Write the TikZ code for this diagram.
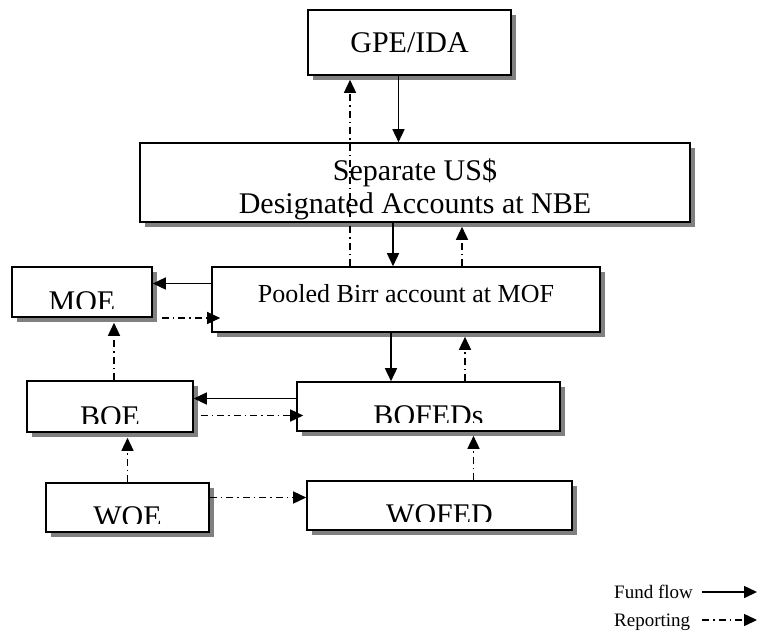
\documentclass[tikz,border=0pt]{standalone}
\usepackage{fontspec}
\setmainfont{Liberation Serif}
\usetikzlibrary{arrows.meta,shadows}
\begin{document}
\begin{tikzpicture}[x=1pt,y=-1pt,
  box/.style={draw, line width=1.6pt, fill=white, inner sep=0pt,
    general shadow={fill=black!50, shadow xshift=5pt, shadow yshift=-5pt}},
  bigtxt/.style={font=\fontsize{30}{33}\selectfont},
  cuttext/.style={path picture={
      \clip ([yshift=9pt]path picture bounding box.south west) rectangle (path picture bounding box.north east);
      \node[anchor=base, inner sep=0pt, font=\fontsize{30}{33}\selectfont] at ([yshift=6pt]path picture bounding box.south) {#1};}},
  fund/.style={line width=1.5pt, -{Triangle[length=13pt,width=12pt]}},
  rep/.style={line width=1.5pt, dash pattern=on 7pt off 4pt on 1.5pt off 4pt, -{Triangle[length=13pt,width=12pt]}}
]
\useasboundingbox (0,0) rectangle (759,633);

% boxes
\node[box, minimum width=203pt, minimum height=65pt] (GPE) at (409.5,42.5) {};
\node[anchor=base, bigtxt, inner sep=0pt] (GPEt) at (409.5,52) {GPE/IDA};
\node[box, minimum width=550pt, minimum height=79pt] (Sep) at (415,182.5) {};
\node[box, minimum width=388pt, minimum height=65pt] (Pool) at (406,299.5) {};
\node[anchor=base, inner sep=0pt, font=\fontsize{26}{30}\selectfont] (Poolt) at (406,302) {Pooled Birr account at MOF};
\node[box, minimum width=140pt, minimum height=50pt, cuttext=MOE] (MOE) at (82,292) {};
\node[box, minimum width=166pt, minimum height=51pt, cuttext=BOE] (BOE) at (110,406.5) {};
\node[box, minimum width=263pt, minimum height=49pt, cuttext=BOFEDs] (BOFED) at (428.5,406.5) {};
\node[box, minimum width=163pt, minimum height=49pt, cuttext=WOE] (WOE) at (127.5,507.5) {};
\node[box, minimum width=265pt, minimum height=49pt, cuttext=WOFED] (WOFED) at (439.5,505.5) {};

% arrows
\draw[fund] ([xshift=-11pt]GPE.south) -- ([xshift=-11pt]GPE.south |- Sep.north);
\draw[rep] ([xshift=-56pt]Pool.north) -- ([xshift=-56pt,yshift=-4pt]Pool.north |- GPE.south);
\node[anchor=base, bigtxt, inner sep=0pt] (Sept1) at (415,180) {Separate US\$};
\node[anchor=base, bigtxt, inner sep=0pt] (Sept2) at (415,213) {Designated Accounts at NBE};
\draw[fund] ([xshift=-13pt]Pool.north |- Sep.south) -- ([xshift=-13pt]Pool.north);
\draw[rep] ([xshift=56pt]Pool.north) -- ([xshift=56pt,yshift=-4pt]Pool.north |- Sep.south);
\draw[fund] ([yshift=16pt]Pool.west) -- ([yshift=16pt]Pool.west -| MOE.east);
\draw[rep] ([shift={(9pt,-26pt)}]MOE.east) -- ([shift={(9pt,-26pt)}]MOE.east -| Pool.west);
\draw[fund] ([xshift=-15pt]Pool.south) -- ([xshift=-15pt]Pool.south |- BOFED.north);
\draw[rep] ([xshift=59pt]Pool.south |- BOFED.north) -- ([xshift=59pt,yshift=-4pt]Pool.south);
\draw[rep] ([xshift=32pt]MOE.south |- BOE.north) -- ([xshift=32pt,yshift=-5pt]MOE.south);
\draw[fund] ([yshift=8pt]BOFED.west) -- ([yshift=8pt]BOFED.west -| BOE.east);
\draw[rep] ([shift={(7pt,-9pt)}]BOE.east) -- ([shift={(7pt,-9pt)}]BOE.east -| BOFED.west);
\draw[rep] (WOE.north) -- ([yshift=-5pt]BOE.south -| WOE.north);
\draw[rep] ([yshift=10pt]WOE.east) -- ([yshift=10pt]WOE.east -| WOFED.west);
\draw[rep] ([xshift=34pt]WOFED.north) -- ([xshift=34pt,yshift=-4pt]WOFED.north |- BOFED.south);

% legend
\node[anchor=base west, inner sep=0pt, font=\fontsize{19}{22}\selectfont] (L1) at (614,598) {Fund flow};
\node[anchor=base west, inner sep=0pt, font=\fontsize{19}{22}\selectfont] (L2) at (614,626) {Reporting};
\coordinate (a1) at (702,592);
\coordinate (b1) at (757,592);
\coordinate (a2) at (702,620);
\coordinate (b2) at (757,620);
\draw[fund] (a1) -- (b1);
\draw[rep] (a2) -- (b2);
\end{tikzpicture}
\end{document}
